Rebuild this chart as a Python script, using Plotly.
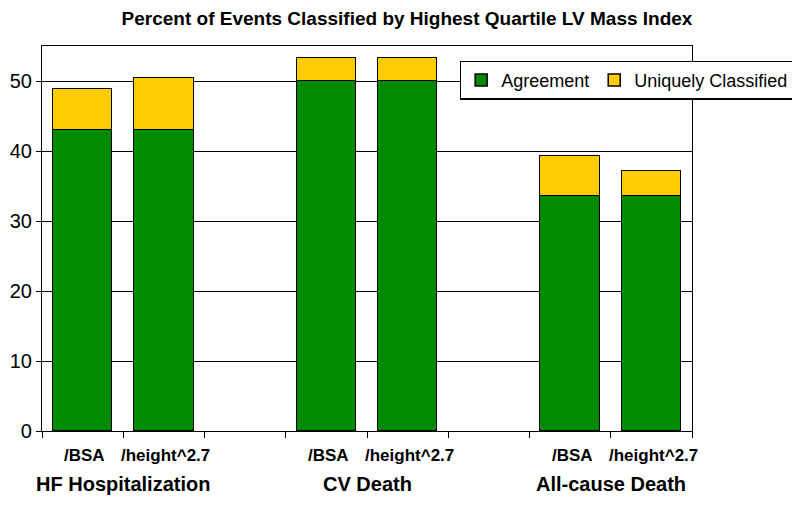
import plotly.graph_objects as go

groups = ["HF Hospitalization", "CV Death", "All-cause Death"]
methods = ["/BSA", "/height^2.7"]
agreement = [43.0, 43.0, 50.0, 50.0, 33.6, 33.6]
total = [48.9, 50.4, 53.3, 53.3, 39.3, 37.1]
unique = [round(t - a, 2) for t, a in zip(total, agreement)]
yticks = [0, 10, 20, 30, 40, 50]

# positions: each group takes 3 slots (2 bars + gap)
xpos = []
labels = []
for gi, g in enumerate(groups):
    for mi, m in enumerate(methods):
        xpos.append(gi * 3 + mi + 0.5)
        labels.append(m)

GREEN = "#008a00"
YELLOW = "#ffcc00"
FONT = "Liberation Sans, Arial"

fig = go.Figure()
fig.add_trace(go.Bar(x=xpos, y=agreement, name="Agreement", width=0.73,
                     marker=dict(color=GREEN, line=dict(color="black", width=1.5))))
fig.add_trace(go.Bar(x=xpos, y=unique, name="Uniquely Classified", width=0.73,
                     marker=dict(color=YELLOW, line=dict(color="black", width=1.5))))

# sub labels
for x, lab in zip(xpos, labels):
    fig.add_annotation(x=x, y=0, xref="x", yref="paper", yanchor="middle",
                       yshift=-24, xshift=2, text=f"<b>{lab}</b>", showarrow=False,
                       font=dict(size=17, color="black", family=FONT))
for gi, g in enumerate(groups):
    fig.add_annotation(x=gi * 3 + 1.0, y=0, xref="x", yref="paper", yshift=-53,
                       yanchor="middle", text=f"<b>{g}</b>", showarrow=False,
                       font=dict(size=20, color="black", family=FONT))

fig.update_layout(
    barmode="stack",
    width=792, height=497,
    margin=dict(l=34, r=108, t=38, b=74, autoexpand=False),
    plot_bgcolor="white", paper_bgcolor="white",
    font=dict(family=FONT, color="black", size=18),
    title=dict(text="<b>Percent of Events Classified by Highest Quartile LV Mass Index</b>",
               x=399 / 792, xanchor="center", y=1 - 10 / 497, yanchor="middle",
               font=dict(size=19, color="black")),
    showlegend=True,
    legend=dict(orientation="h", x=0.643, xanchor="left", y=0.962, yanchor="top",
                bgcolor="white", bordercolor="black", borderwidth=1.2,
                font=dict(size=18, color="black"), traceorder="normal",
                itemwidth=30),
    bargap=0,
)
fig.update_xaxes(range=[0, 8], tickvals=list(range(9)), ticktext=[""] * 9,
                 ticks="outside", ticklen=6, tickcolor="black", showgrid=False,
                 showline=True, linecolor="black", linewidth=1.2, mirror=True,
                 zeroline=False, automargin=False)
fig.update_yaxes(range=[0, 55], tickvals=yticks, ticks="outside", ticklen=5,
                 tickcolor="black", showgrid=True, gridcolor="black", gridwidth=1,
                 showline=True, linecolor="black", linewidth=1.2, mirror=True,
                 zeroline=False, tickfont=dict(size=20), automargin=False)

fig.write_html("out.html")
